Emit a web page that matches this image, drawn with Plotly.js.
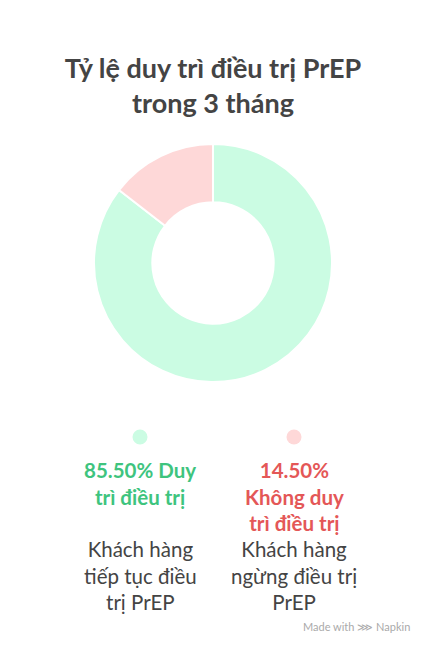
<!DOCTYPE html>
<html>
<head>
<meta charset="utf-8">
<script src="https://cdn.plot.ly/plotly-3.0.1.min.js"></script>
<style>html,body{margin:0;padding:0;background:#fff;}#chart{width:436px;height:654px;}</style>
</head>
<body>
<div id="chart"></div>
<script>
const categories = ["Duy trì điều trị", "Không duy trì điều trị"];
const values = [85.5, 14.5];
const descriptions = ["Khách hàng<br>tiếp tục điều<br>trị PrEP", "Khách hàng<br>ngừng điều trị<br>PrEP"];
const labelLines = ["85.50% Duy<br>trì điều trị", "14.50%<br>Không duy<br>trì điều trị"];
const sliceColors = ["#cbfce3", "#fed8d8"];
const textColors = ["#3ec47e", "#e45757"];

const W = 436, H = 654;
const fontFam = "Lato, 'Open Sans', sans-serif";
const legendX = [140, 294];

const annotations = [];
const shapes = [];
categories.forEach((c, i) => {
  const px = legendX[i] / W;
  shapes.push({type: "circle", xref: "paper", yref: "paper",
    x0: (legendX[i] - 7.5) / W, x1: (legendX[i] + 7.5) / W,
    y0: 1 - (437 + 7.5) / H, y1: 1 - (437 - 7.5) / H,
    fillcolor: sliceColors[i], line: {width: 0}});
  annotations.push({xref: "paper", yref: "paper", x: px, y: 1 - 456 / H,
    xanchor: "center", yanchor: "top", showarrow: false, align: "center",
    text: "<b>" + labelLines[i] + "</b>",
    font: {family: fontFam, size: 20.5, color: textColors[i]}});
  annotations.push({xref: "paper", yref: "paper", x: px, y: 1 - 535 / H,
    xanchor: "center", yanchor: "top", showarrow: false, align: "center",
    text: descriptions[i],
    font: {family: fontFam, size: 20.5, color: "#444444"}});
});
annotations.push({xref: "paper", yref: "paper", x: 412 / W, y: 1 - 626 / H,
  xanchor: "right", yanchor: "middle", showarrow: false,
  text: "Made with ⋙ Napkin", font: {family: fontFam, size: 11, color: "#aaaaaa"}});

const data = [{
  type: "pie",
  labels: categories,
  values: values,
  hole: 0.51,
  sort: false,
  direction: "clockwise",
  rotation: 0,
  textinfo: "none",
  hoverinfo: "none",
  marker: {colors: sliceColors, line: {color: "#ffffff", width: 2}},
  domain: {x: [94 / W, 332 / W], y: [1 - 382 / H, 1 - 144 / H]},
  showlegend: false
}];

const layout = {
  width: W, height: H,
  margin: {l: 0, r: 0, t: 0, b: 0},
  paper_bgcolor: "#ffffff",
  title: {text: "<b>Tỷ lệ duy trì điều trị PrEP<br>trong 3 tháng</b>",
    x: 213 / W, xanchor: "center", y: 1 - 78 / H, yanchor: "top",
    font: {family: fontFam, size: 27, color: "#444444"}},
  annotations: annotations,
  shapes: shapes,
  showlegend: false
};

Plotly.newPlot("chart", data, layout, {displayModeBar: false, staticPlot: true});
</script>
</body>
</html>
